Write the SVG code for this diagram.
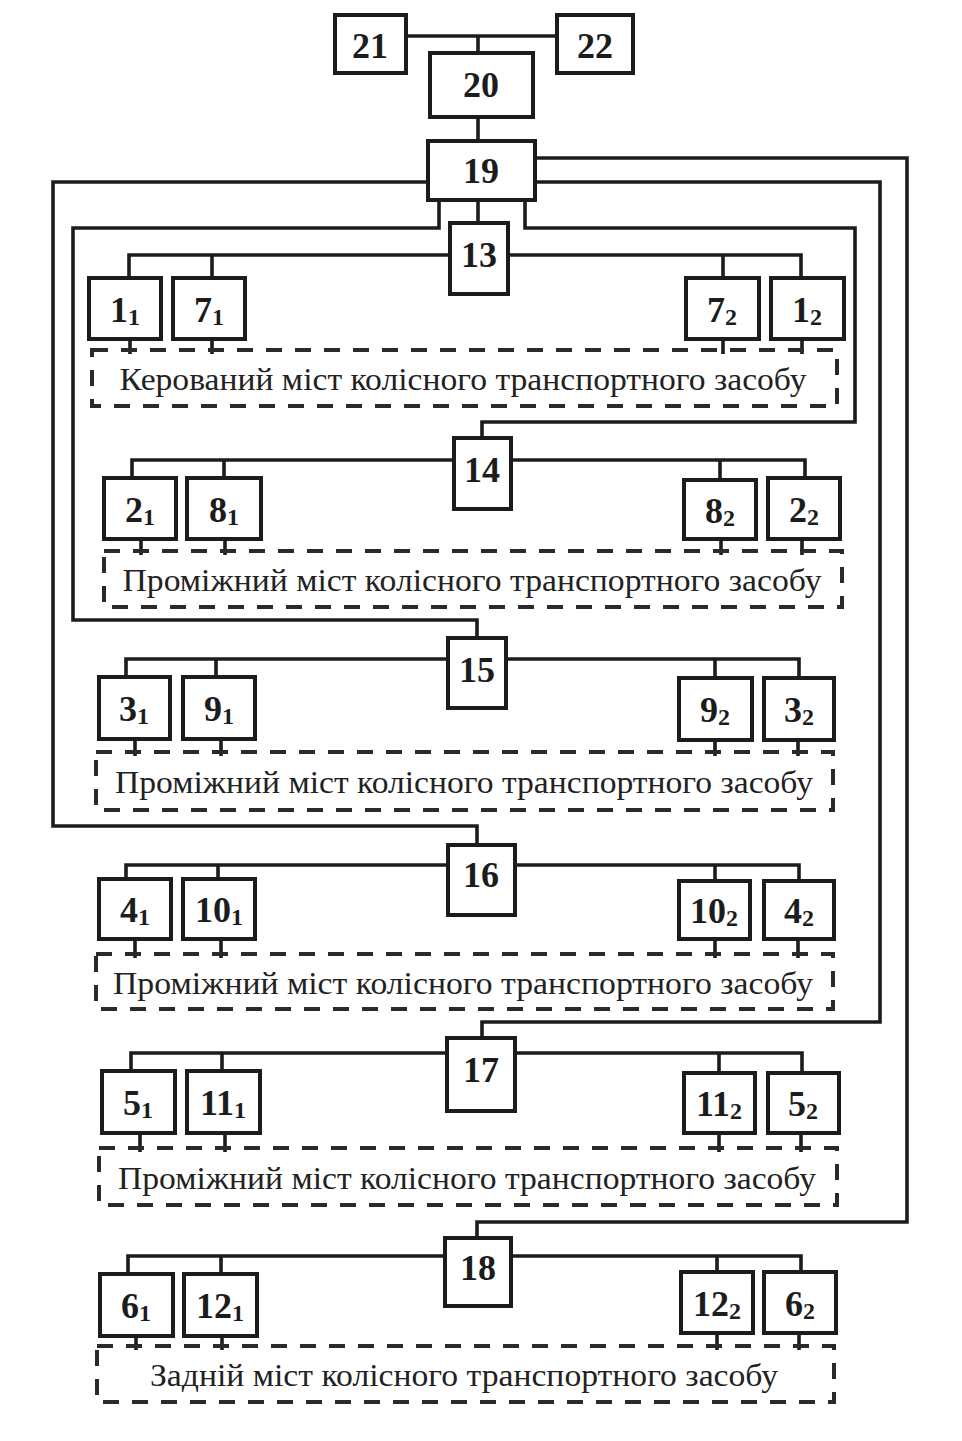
<svg xmlns="http://www.w3.org/2000/svg" width="962" height="1441" viewBox="0 0 962 1441">
<style>
.bx{fill:#fff;stroke:#1c1c1c;stroke-width:4}
.ln{fill:none;stroke:#1c1c1c;stroke-width:3.6;stroke-linecap:square;stroke-linejoin:miter}
.st{fill:none;stroke:#1c1c1c;stroke-width:3.6}
.ds{fill:none;stroke:#2a2a2a;stroke-width:4;stroke-dasharray:16 13}
.n{font-family:"Liberation Serif","Times New Roman",serif;font-weight:bold;font-size:36px;fill:#1c1c1c;text-anchor:middle}
.s{font-size:24px}
.lb{font-family:"Liberation Serif","Times New Roman",serif;font-size:31px;fill:#222;text-anchor:middle}
</style>
<rect width="962" height="1441" fill="#fff"/>
<g id="connectors">
<path class="ln" d="M406 36 H557 M478 36 V53 M478 117 V141 M478 200 V223"/>
<path class="ln" d="M439 200 V228 H73 V620 H477 V638"/>
<path class="ln" d="M525 200 V228 H855 V422 H482 V438"/>
<path class="ln" d="M428 182 H53 V826 H477 V845"/>
<path class="ln" d="M535 182 H880 V1022 H482 V1038"/>
<path class="ln" d="M535 158 H907 V1222 H477 V1238"/>
<path class="ln" d="M129 278 V255 H450 M212 255 V278 M508 255 H801 V278 M723 255 V278"/>
<path class="ln" d="M132 478 V460 H454 M224 460 V478 M511 460 H805 V478 M720 460 V480"/>
<path class="ln" d="M126 677 V659 H448 M216 659 V677 M506 659 H799 V678 M715 659 V678"/>
<path class="ln" d="M126 879 V865 H448 M218 865 V879 M515 865 H799 V881 M715 865 V881"/>
<path class="ln" d="M131 1071 V1053 H447 M222 1053 V1071 M515 1053 H802 V1073 M719 1053 V1073"/>
<path class="ln" d="M128 1274 V1256 H445 M221 1256 V1274 M511 1256 H801 V1272 M717 1256 V1272"/>
<path class="st" d="M130 339 V354 M212 339 V354 M723 339 V354 M802 339 V354"/>
<path class="st" d="M141 539 V555 M225 539 V555 M721 539 V555 M802 539 V555"/>
<path class="st" d="M135 739 V756 M221 739 V756 M715 740 V756 M798 740 V756"/>
<path class="st" d="M135 939 V958 M221 939 V958 M715 939 V958 M798 939 V958"/>
<path class="st" d="M140 1133 V1152 M225 1133 V1152 M719 1133 V1152 M801 1133 V1152"/>
<path class="st" d="M136 1336 V1350 M222 1336 V1350 M717 1333 V1350 M799 1333 V1350"/>
</g>
<g id="n21"><rect class="bx" x="335" y="15" width="71" height="58"/><text class="n" x="370" y="58">21</text></g>
<g id="n22"><rect class="bx" x="557" y="15" width="76" height="58"/><text class="n" x="595" y="58">22</text></g>
<g id="n20"><rect class="bx" x="430" y="53" width="103" height="64"/><text class="n" x="481" y="97">20</text></g>
<g id="n19"><rect class="bx" x="428" y="141" width="107" height="59"/><text class="n" x="481" y="183">19</text></g>
<g id="n13"><rect class="bx" x="450" y="223" width="58" height="71"/><text class="n" x="479" y="267">13</text></g>
<g id="n14"><rect class="bx" x="454" y="438" width="57" height="71"/><text class="n" x="482" y="482">14</text></g>
<g id="n15"><rect class="bx" x="448" y="638" width="58" height="70"/><text class="n" x="477" y="682">15</text></g>
<g id="n16"><rect class="bx" x="448" y="845" width="67" height="70"/><text class="n" x="481" y="887">16</text></g>
<g id="n17"><rect class="bx" x="447" y="1038" width="68" height="73"/><text class="n" x="481" y="1082">17</text></g>
<g id="n18"><rect class="bx" x="445" y="1238" width="66" height="68"/><text class="n" x="478" y="1280">18</text></g>

<g id="n1_1"><rect class="bx" x="89" y="278" width="72" height="61"/><text class="n" x="125" y="322">1<tspan class="s" dy="3">1</tspan></text></g>
<g id="n7_1"><rect class="bx" x="173" y="278" width="72" height="61"/><text class="n" x="209" y="322">7<tspan class="s" dy="3">1</tspan></text></g>
<g id="n7_2"><rect class="bx" x="686" y="278" width="73" height="61"/><text class="n" x="722" y="322">7<tspan class="s" dy="3">2</tspan></text></g>
<g id="n1_2"><rect class="bx" x="771" y="278" width="73" height="61"/><text class="n" x="807" y="322">1<tspan class="s" dy="3">2</tspan></text></g>
<g id="axle1"><rect class="ds" x="92" y="350" width="745" height="56"/><text class="lb" x="463" y="390" textLength="687" lengthAdjust="spacingAndGlyphs">Керований міст колісного транспортного засобу</text></g>

<g id="n2_1"><rect class="bx" x="104" y="478" width="72" height="61"/><text class="n" x="140" y="522">2<tspan class="s" dy="3">1</tspan></text></g>
<g id="n8_1"><rect class="bx" x="187" y="478" width="74" height="61"/><text class="n" x="224" y="522">8<tspan class="s" dy="3">1</tspan></text></g>
<g id="n8_2"><rect class="bx" x="684" y="480" width="72" height="59"/><text class="n" x="720" y="523">8<tspan class="s" dy="3">2</tspan></text></g>
<g id="n2_2"><rect class="bx" x="768" y="478" width="72" height="61"/><text class="n" x="804" y="522">2<tspan class="s" dy="3">2</tspan></text></g>
<g id="axle2"><rect class="ds" x="104" y="551" width="738" height="56"/><text class="lb" x="472" y="591" textLength="699" lengthAdjust="spacingAndGlyphs">Проміжний міст колісного транспортного засобу</text></g>

<g id="n3_1"><rect class="bx" x="99" y="677" width="71" height="62"/><text class="n" x="134" y="721">3<tspan class="s" dy="3">1</tspan></text></g>
<g id="n9_1"><rect class="bx" x="183" y="677" width="72" height="62"/><text class="n" x="219" y="721">9<tspan class="s" dy="3">1</tspan></text></g>
<g id="n9_2"><rect class="bx" x="679" y="678" width="73" height="62"/><text class="n" x="715" y="722">9<tspan class="s" dy="3">2</tspan></text></g>
<g id="n3_2"><rect class="bx" x="764" y="678" width="70" height="62"/><text class="n" x="799" y="722">3<tspan class="s" dy="3">2</tspan></text></g>
<g id="axle3"><rect class="ds" x="96" y="752" width="737" height="58"/><text class="lb" x="464" y="793" textLength="698" lengthAdjust="spacingAndGlyphs">Проміжний міст колісного транспортного засобу</text></g>

<g id="n4_1"><rect class="bx" x="99" y="879" width="72" height="60"/><text class="n" x="135" y="922">4<tspan class="s" dy="3">1</tspan></text></g>
<g id="n10_1"><rect class="bx" x="183" y="879" width="72" height="60"/><text class="n" x="219" y="922">10<tspan class="s" dy="3">1</tspan></text></g>
<g id="n10_2"><rect class="bx" x="679" y="881" width="71" height="58"/><text class="n" x="714" y="923">10<tspan class="s" dy="3">2</tspan></text></g>
<g id="n4_2"><rect class="bx" x="764" y="881" width="70" height="58"/><text class="n" x="799" y="923">4<tspan class="s" dy="3">2</tspan></text></g>
<g id="axle4"><rect class="ds" x="96" y="954" width="737" height="55"/><text class="lb" x="463" y="994" textLength="700" lengthAdjust="spacingAndGlyphs">Проміжний міст колісного транспортного засобу</text></g>

<g id="n5_1"><rect class="bx" x="102" y="1071" width="73" height="62"/><text class="n" x="138" y="1115">5<tspan class="s" dy="3">1</tspan></text></g>
<g id="n11_1"><rect class="bx" x="187" y="1071" width="73" height="62"/><text class="n" x="223" y="1115">11<tspan class="s" dy="3">1</tspan></text></g>
<g id="n11_2"><rect class="bx" x="684" y="1073" width="71" height="60"/><text class="n" x="719" y="1116">11<tspan class="s" dy="3">2</tspan></text></g>
<g id="n5_2"><rect class="bx" x="768" y="1073" width="71" height="60"/><text class="n" x="803" y="1116">5<tspan class="s" dy="3">2</tspan></text></g>
<g id="axle5"><rect class="ds" x="99" y="1148" width="738" height="57"/><text class="lb" x="467" y="1189" textLength="698" lengthAdjust="spacingAndGlyphs">Проміжний міст колісного транспортного засобу</text></g>

<g id="n6_1"><rect class="bx" x="100" y="1274" width="73" height="62"/><text class="n" x="136" y="1318">6<tspan class="s" dy="3">1</tspan></text></g>
<g id="n12_1"><rect class="bx" x="184" y="1274" width="73" height="62"/><text class="n" x="220" y="1318">12<tspan class="s" dy="3">1</tspan></text></g>
<g id="n12_2"><rect class="bx" x="681" y="1272" width="72" height="61"/><text class="n" x="717" y="1316">12<tspan class="s" dy="3">2</tspan></text></g>
<g id="n6_2"><rect class="bx" x="764" y="1272" width="72" height="61"/><text class="n" x="800" y="1316">6<tspan class="s" dy="3">2</tspan></text></g>
<g id="axle6"><rect class="ds" x="97" y="1346" width="737" height="56"/><text class="lb" x="464" y="1386" textLength="628" lengthAdjust="spacingAndGlyphs">Задній міст колісного транспортного засобу</text></g>
</svg>
